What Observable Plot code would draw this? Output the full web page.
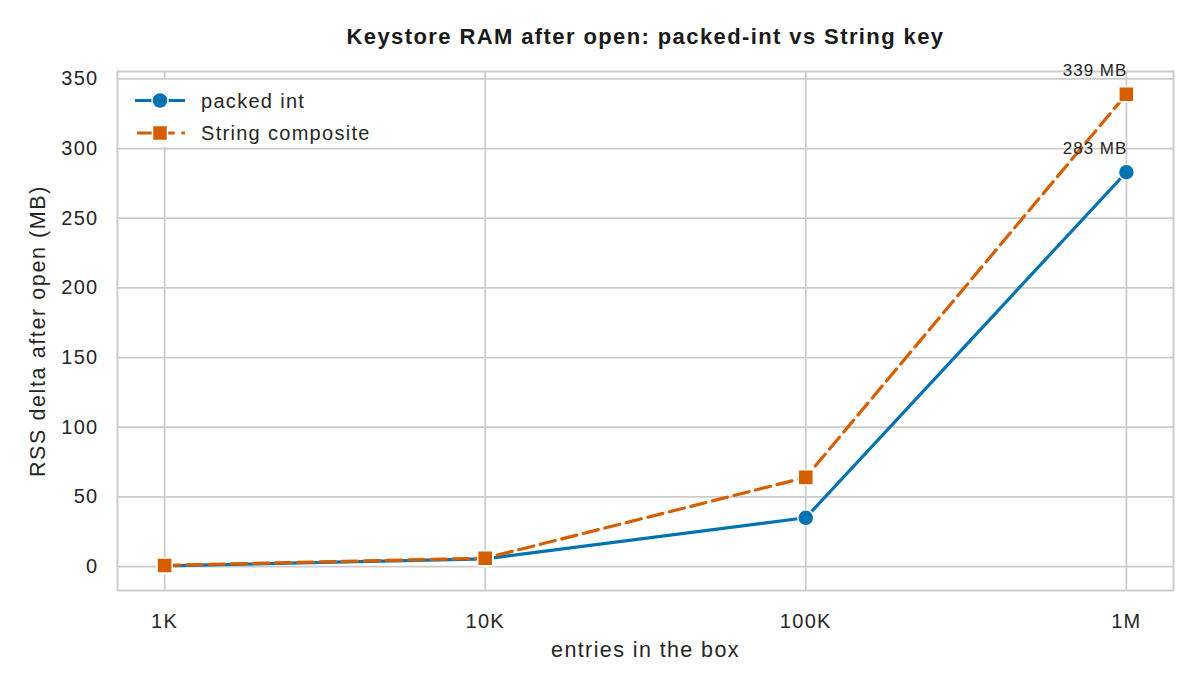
<!DOCTYPE html>
<html>
<head>
<meta charset="utf-8">
<script src="https://cdn.jsdelivr.net/npm/d3@7"></script>
<script src="https://cdn.jsdelivr.net/npm/@observablehq/plot@0.6"></script>
<style>
  html, body { margin: 0; padding: 0; background: #fff; }
  #wrap { position: relative; width: 1200px; height: 690px; font-family: "Liberation Sans", Arial, sans-serif; }
  #legend { position: absolute; left: 124px; top: 80px; }
</style>
</head>
<body>
<div id="wrap"></div>
<script>
// ---- data ----
const entries = [1e3, 1e4, 1e5, 1e6];
const entryLabels = ["1K", "10K", "100K", "1M"];
const packedInt = [0.5, 5.5, 35, 283];
const stringComposite = [0.8, 6, 64, 339];
const seriesNames = ["packed int", "String composite"];
const seriesColors = ["#0173B2", "#D55E00"];
const yTicks = [0, 50, 100, 150, 200, 250, 300, 350];
const title = "Keystore RAM after open: packed-int vs String key";
const xLabel = "entries in the box";
const yLabel = "RSS delta after open (MB)";

const rowsA = entries.map((e, i) => ({x: e, y: packedInt[i], s: seriesNames[0]}));
const rowsB = entries.map((e, i) => ({x: e, y: stringComposite[i], s: seriesNames[1]}));
const lastA = [rowsA[rowsA.length - 1]];
const lastB = [rowsB[rowsB.length - 1]];
const fmtLabel = new Map(entries.map((e, i) => [e, entryLabels[i]]));

const font = "Liberation Sans, Arial, sans-serif";
const ink = "#262626";
const dash = "15.5,6.7";

const chart = Plot.plot({
  width: 1200,
  height: 690,
  marginLeft: 117,
  marginRight: 27,
  marginTop: 71,
  marginBottom: 100,
  style: {fontFamily: font, background: "#fff", color: ink},
  x: {type: "log", domain: [Math.pow(10, 2.853), Math.pow(10, 6.147)]},
  y: {domain: [-17.2, 355.3]},
  marks: [
    Plot.gridX(entries, {stroke: "#cccccc", strokeOpacity: 1, strokeWidth: 1.8}),
    Plot.gridY(yTicks, {stroke: "#cccccc", strokeOpacity: 1, strokeWidth: 1.8}),
    Plot.frame({stroke: "#cccccc", strokeWidth: 2}),
    Plot.axisX(entries, {tickSize: 0, tickPadding: 23, tickFormat: d => fmtLabel.get(d), fontSize: 20, label: null, fill: ink}),
    Plot.axisY(yTicks, {tickSize: 0, tickPadding: 19, fontSize: 20, label: null, fill: ink}),
    Plot.line(rowsA, {x: "x", y: "y", stroke: seriesColors[0], strokeWidth: 3.2}),
    Plot.dot(rowsA, {x: "x", y: "y", symbol: "circle", r: 8, fill: seriesColors[0], stroke: "#fff", strokeWidth: 1.5}),
    Plot.line(rowsB, {x: "x", y: "y", stroke: seriesColors[1], strokeWidth: 3.2, strokeDasharray: dash}),
    Plot.dot(rowsB, {x: "x", y: "y", symbol: "square", r: 8.5, fill: seriesColors[1], stroke: "#fff", strokeWidth: 1.5}),
    Plot.text(lastA, {x: "x", y: "y", text: d => `${d.y} MB`, textAnchor: "end", dx: 1, dy: -24, fontSize: 17, fill: ink, ariaLabel: () => "annot"}),
    Plot.text(lastB, {x: "x", y: "y", text: d => `${d.y} MB`, textAnchor: "end", dx: 1, dy: -23.5, fontSize: 17, fill: ink, ariaLabel: () => "annot"}),
    Plot.text([title], {frameAnchor: "top", textAnchor: "middle", lineAnchor: "middle", dy: -35, fontSize: 22, fontWeight: "bold", fill: "#1a1a1a", ariaLabel: () => "title"}),
    Plot.text([xLabel], {frameAnchor: "bottom", textAnchor: "middle", lineAnchor: "middle", dy: 60, fontSize: 21.5, fill: ink, ariaLabel: () => "xlabel"}),
    Plot.text([yLabel], {frameAnchor: "left", textAnchor: "middle", lineAnchor: "middle", dx: -79, rotate: -90, fontSize: 21.5, fill: ink, ariaLabel: () => "ylabel"})
  ]
});
document.getElementById("wrap").appendChild(chart);

const svg = d3.select(chart);
const spacing = [
  ['g[aria-label="x-axis tick label"] text', "1.3px"],
  ['g[aria-label="y-axis tick label"] text', "1.3px"],
  ['[aria-label="annot"]', "1px"],
  ['[aria-label="title"]', "1.4px"],
  ['[aria-label="xlabel"]', "1.4px"],
  ['[aria-label="ylabel"]', "1.6px"]
];
spacing.forEach(([sel, ls]) => {
  svg.selectAll(sel).each(function() {
    const el = d3.select(this);
    if (this.tagName.toLowerCase() === "text") el.style("letter-spacing", ls);
    else el.selectAll("text").style("letter-spacing", ls);
  });
});

// legend (line + marker swatches)
const leg = d3.select("#wrap").append("svg").attr("id", "legend")
  .attr("width", 265).attr("height", 67);
leg.append("rect").attr("x", 0).attr("y", 0).attr("width", 265).attr("height", 67).attr("fill", "#fff");
seriesNames.forEach((name, i) => {
  const g = leg.append("g").attr("transform", `translate(0,${20.5 + i * 32.5})`);
  g.append("line").attr("x1", 11).attr("x2", 61).attr("y1", 0).attr("y2", 0)
    .attr("stroke", seriesColors[i]).attr("stroke-width", 3.2)
    .attr("stroke-dasharray", i === 1 ? dash : null)
    .attr("stroke-dashoffset", i === 1 ? -2 : null);
  if (i === 0) {
    g.append("circle").attr("cx", 36).attr("cy", 0).attr("r", 8)
      .attr("fill", seriesColors[i]).attr("stroke", "#fff").attr("stroke-width", 1.5);
  } else {
    g.append("rect").attr("x", 36 - 7.5).attr("y", -7.5).attr("width", 15).attr("height", 15)
      .attr("fill", seriesColors[i]).attr("stroke", "#fff").attr("stroke-width", 1.5);
  }
  g.append("text").attr("x", 77).attr("y", 0).attr("dy", "0.35em")
    .attr("font-size", 20).attr("fill", ink).attr("font-family", font)
    .style("letter-spacing", "1.3px").text(name);
});
</script>
</body>
</html>
